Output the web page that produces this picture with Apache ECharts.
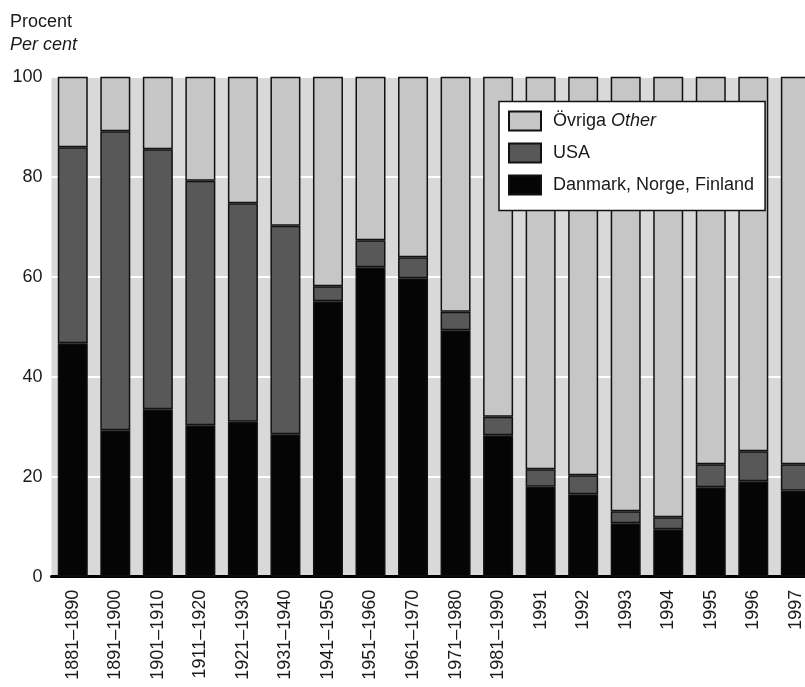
<!DOCTYPE html>
<html>
<head>
<meta charset="utf-8">
<script src="https://cdn.jsdelivr.net/npm/echarts@6/dist/echarts.min.js"></script>
<style>
html,body{margin:0;padding:0;background:#fff;overflow:hidden;width:805px;height:687px;}
#chart{width:818px;height:687px;}
</style>
</head>
<body>
<div id="chart"></div>
<script>
const categories = ['1881–1890','1891–1900','1901–1910','1911–1920','1921–1930','1931–1940','1941–1950','1951–1960','1961–1970','1971–1980','1981–1990','1991','1992','1993','1994','1995','1996','1997'];
const danmarkNorgeFinland = [46.7, 29.3, 33.5, 30.3, 31.0, 28.5, 55.1, 61.9, 59.7, 49.3, 28.3, 18.0, 16.5, 10.7, 9.5, 17.9, 19.1, 17.2];
const usa = [39.2, 59.8, 52.0, 48.9, 43.7, 41.7, 3.0, 5.4, 4.2, 3.7, 3.7, 3.5, 3.8, 2.4, 2.4, 4.6, 6.0, 5.3];
const ovriga = [14.1, 10.9, 14.5, 20.8, 25.3, 29.8, 41.9, 32.7, 36.1, 47.0, 68.0, 78.5, 79.7, 86.9, 88.1, 77.5, 74.9, 77.5];
const yTicks = [0, 20, 40, 60, 80, 100];

const FONT = '"Liberation Sans", Arial, sans-serif';
const chart = echarts.init(document.getElementById('chart'), null, {renderer: 'canvas'});

function barSeries(name, data, color) {
  return {
    name: name,
    type: 'bar',
    stack: 'total',
    data: data,
    barWidth: 30,
    itemStyle: {color: color, borderColor: '#111', borderWidth: 1.5},
    emphasis: {disabled: true}
  };
}

chart.setOption({
  animation: false,
  backgroundColor: '#fff',
  graphic: [
    {type: 'text', left: 10, top: 13, style: {text: 'Procent', font: '18px ' + FONT, fill: '#1a1a1a'}},
    {type: 'text', left: 10, top: 36, style: {text: 'Per cent', font: 'italic 18px ' + FONT, fill: '#1a1a1a'}}
  ],
  grid: {
    left: 51.5, top: 76.7, height: 500, width: 765.6,
    show: true, backgroundColor: '#d9d9d9', borderWidth: 0
  },
  legend: {
    orient: 'vertical',
    left: 499, top: 101.5,
    icon: 'rect',
    itemWidth: 32, itemHeight: 19, itemGap: 11,
    padding: [9, 11, 15, 9],
    backgroundColor: '#fff',
    borderColor: '#111', borderWidth: 1.5,
    borderRadius: 0,
    data: ['Övriga Other', 'USA', 'Danmark, Norge, Finland'],
    formatter: function (name) {
      if (name === 'Övriga Other') return '{n|Övriga} {i|Other}';
      return '{n|' + name + '}';
    },
    textStyle: {
      fontFamily: FONT, fontSize: 18, color: '#1a1a1a', padding: [0, 0, 0, 7],
      rich: {
        n: {fontFamily: FONT, fontSize: 18, color: '#1a1a1a'},
        i: {fontFamily: FONT, fontSize: 18, fontStyle: 'italic', color: '#1a1a1a'}
      }
    }
  },
  xAxis: {
    type: 'category',
    data: categories,
    axisLine: {show: true, lineStyle: {color: '#000', width: 3}},
    axisTick: {show: false},
    axisLabel: {rotate: 90, margin: 13, fontFamily: FONT, fontSize: 18, color: '#1a1a1a', interval: 0}
  },
  yAxis: {
    type: 'value',
    min: yTicks[0], max: yTicks[yTicks.length - 1], interval: 20,
    axisLine: {show: false},
    axisTick: {show: false},
    axisLabel: {margin: 9, fontFamily: FONT, fontSize: 18, color: '#1a1a1a'},
    splitLine: {show: true, lineStyle: {color: '#ffffff', width: 2}}
  },
  series: [
    barSeries('Danmark, Norge, Finland', danmarkNorgeFinland, '#050505'),
    barSeries('USA', usa, '#585858'),
    barSeries('Övriga Other', ovriga, '#c6c6c6')
  ]
});
</script>
</body>
</html>
